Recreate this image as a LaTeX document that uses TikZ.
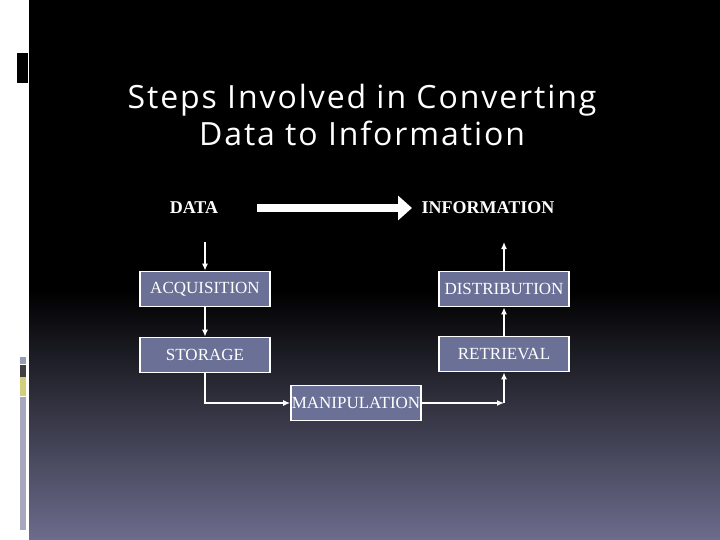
\documentclass[tikz,border=0pt]{standalone}
\usepackage{fontspec}
\setmainfont{Liberation Serif}
\newfontfamily\titlefont[LetterSpace=6]{Open Sans}
\usetikzlibrary{positioning,arrows.meta}
\definecolor{boxfill}{HTML}{6B7196}
\definecolor{slatebot}{HTML}{6C6C8C}
\begin{document}
\begin{tikzpicture}[x=1pt,y=-1pt,>={Latex[length=7pt,width=6pt]}]
  \tikzset{stepbox/.style={draw=white,line width=1.8pt,fill=boxfill,text=white,
      minimum width=130pt,minimum height=35pt,inner sep=0pt,font=\fontsize{17}{19}\selectfont},
    flow/.style={draw=white,line width=1.3pt,->},
    tag/.style={text=white,font=\bfseries\fontsize{18}{20}\selectfont}}
  \useasboundingbox (0,0) rectangle (720,540);
  % slide background
  \fill[white] (0,0) rectangle (29,540);
  \fill[black] (29,0) rectangle (720,290);
  \shade[top color=black,bottom color=slatebot] (29,290) rectangle (720,540);
  \fill[black] (17,53) rectangle (28,83);
  \fill[boxfill!70!white] (20,357) rectangle (26,364);
  \fill[black!75] (20,365) rectangle (26,377);
  \fill[yellow!50!gray!80] (20,377) rectangle (26,396);
  \fill[blue!15!gray!60] (20,397) rectangle (26,530);
  % title
  \node[text=white,font=\titlefont\fontsize{32}{37}\selectfont,align=center] (title) at (362,115)
    {Steps Involved in Converting\\Data to Information};
  % data and information
  \node[tag] (data) at (194,208) {DATA};
  \node[tag] (info) at (488,208) {INFORMATION};
  \coordinate (bigs) at (257,208);
  \coordinate (bige) at (412,208);
  \draw[white,line width=8pt,-{Triangle[length=14pt,width=24pt]}] (bigs) -- (bige);
  % steps
  \node[stepbox] (acq) at (205,289) {ACQUISITION};
  \node[stepbox] (sto) at (205,355) {STORAGE};
  \node[stepbox] (man) at (356,403) {MANIPULATION};
  \node[stepbox] (dis) at (504,289) {DISTRIBUTION};
  \node[stepbox] (ret) at (504,354) {RETRIEVAL};
  \coordinate (in) at (205,242);
  \coordinate (out) at (504,242);
  \coordinate (turn) at (504,403);
  \draw[flow] (in) -- (acq);
  \draw[flow] (acq) -- (sto);
  \draw[flow] (sto.south) |- (man.west);
  \draw[flow] (man.east) -- (turn);
  \draw[flow] (turn) -- (ret.south);
  \draw[flow] (ret) -- (dis);
  \draw[flow] (dis) -- (out);
\end{tikzpicture}
\end{document}
